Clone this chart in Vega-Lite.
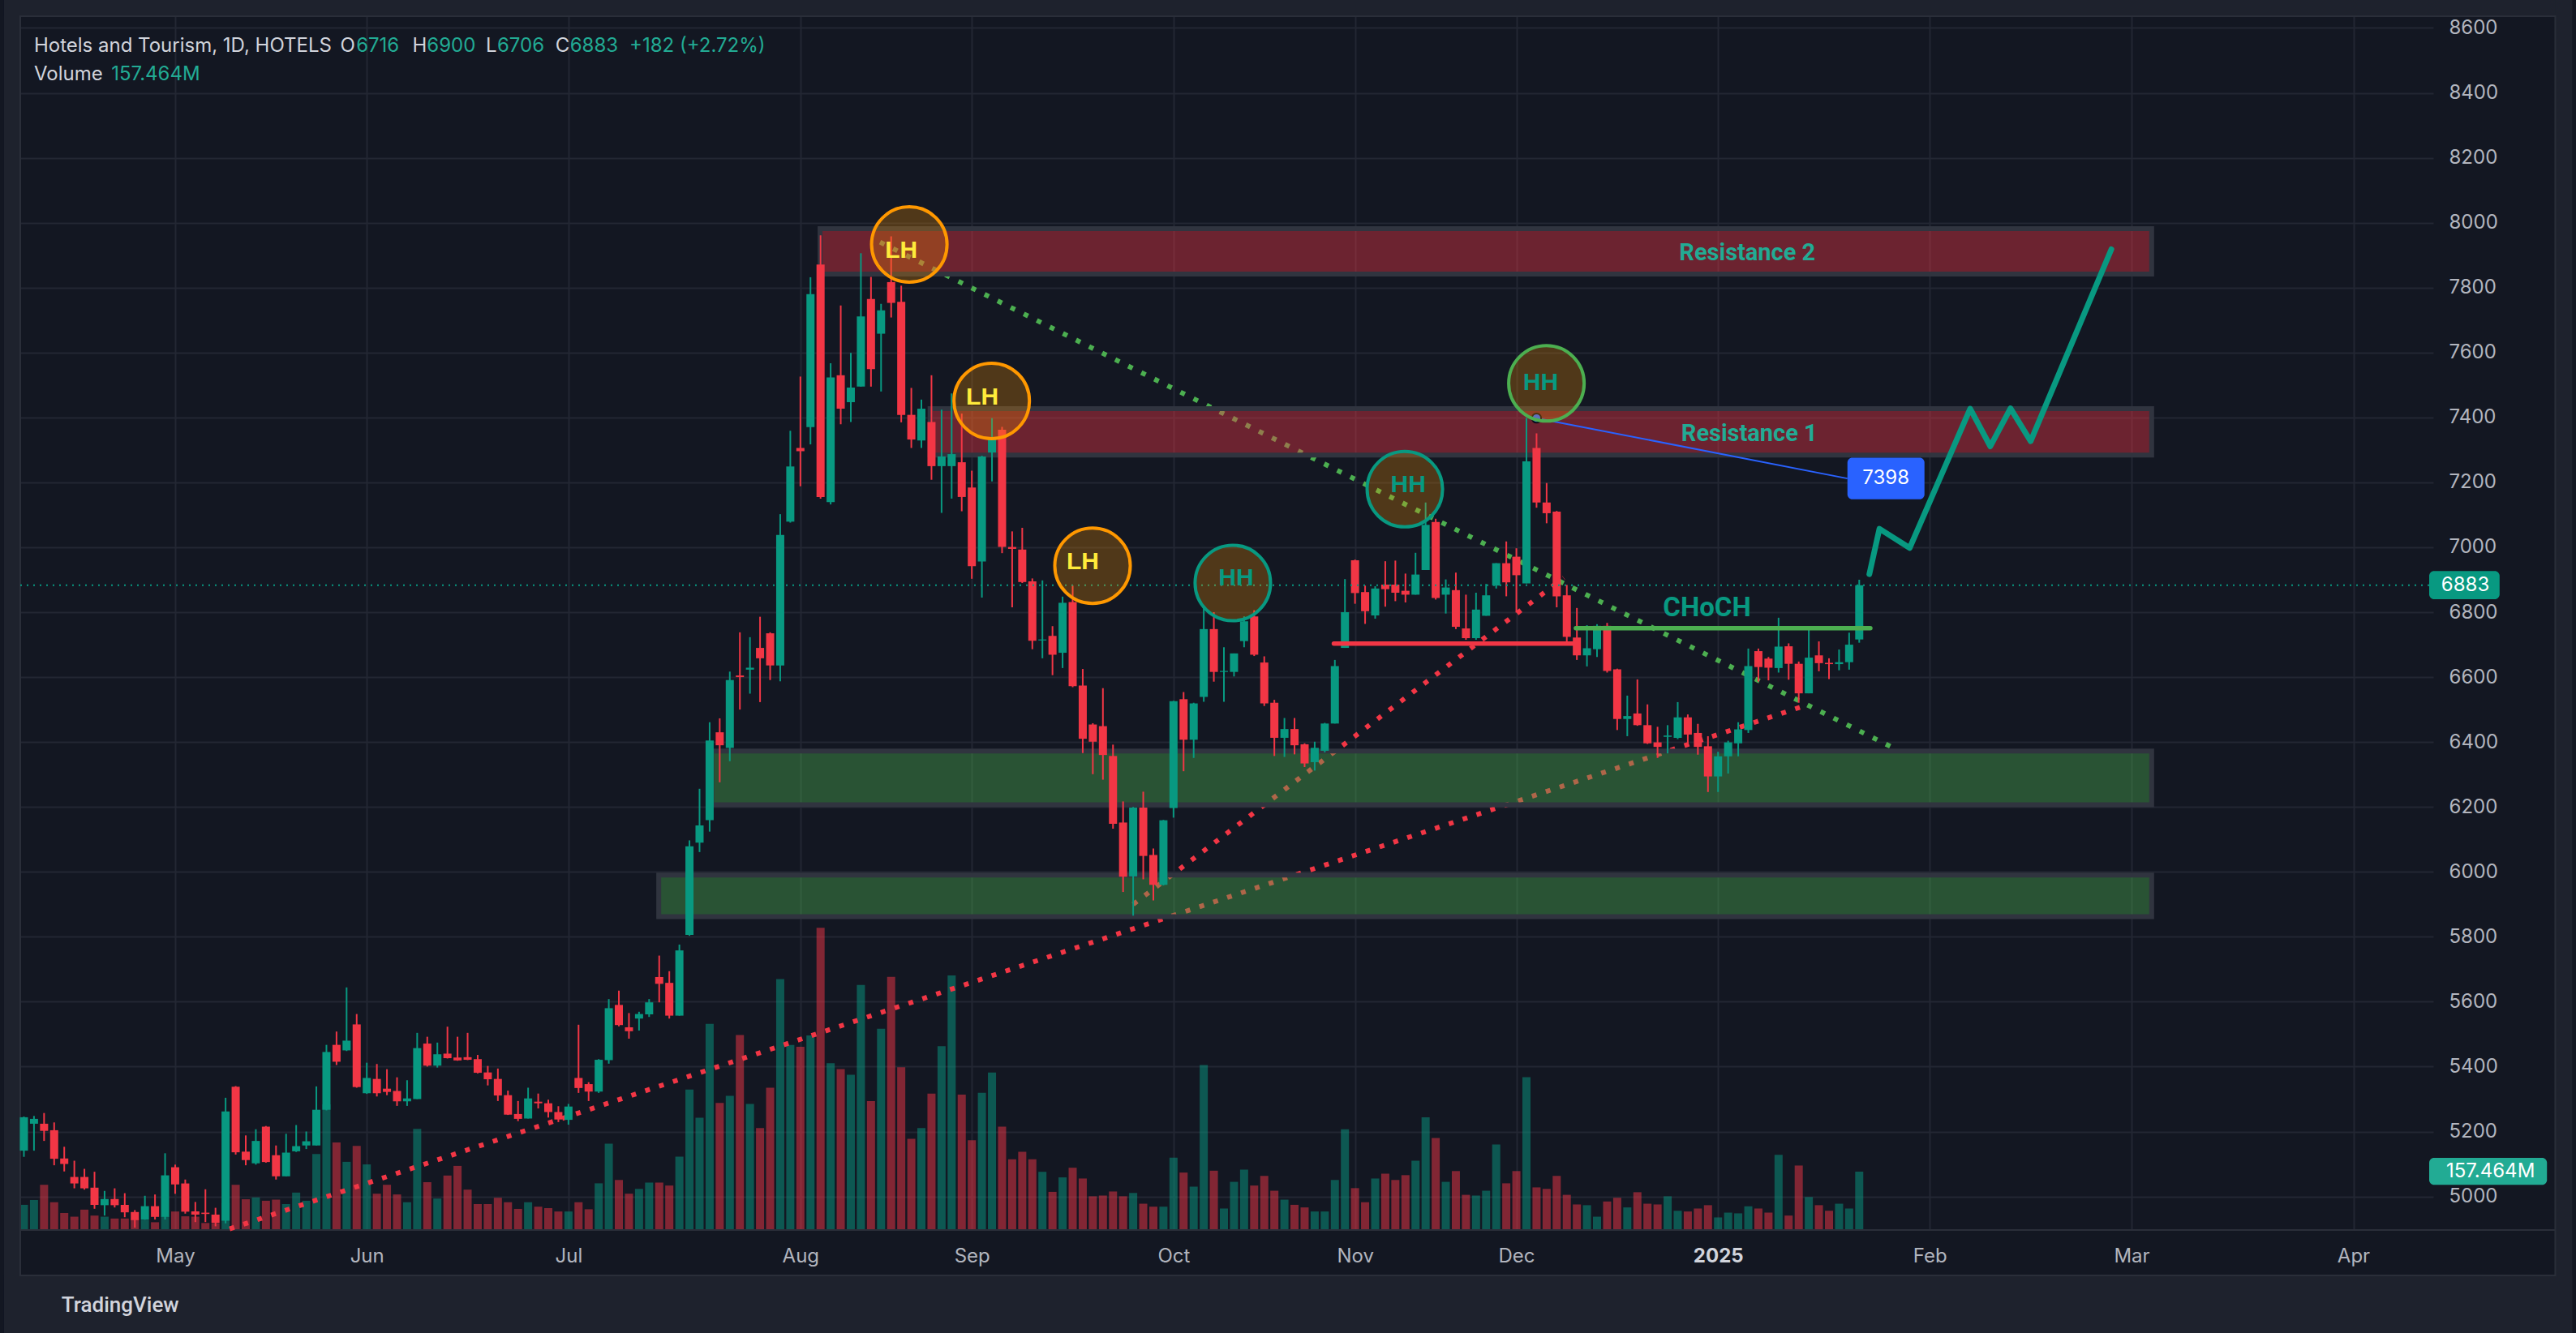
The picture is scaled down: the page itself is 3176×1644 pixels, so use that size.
{
"$schema":"https://vega.github.io/schema/vega-lite/v6.json",
"width":2980,"height":1497,
"autosize":{"type":"none"},
"padding":{"left":20,"top":20,"right":176,"bottom":127},
"background":"#131722",
"config":{"view":{"stroke":null}},
"datasets":{
"candles":[
{"i":0,"o":5141,"h":5246,"l":5122,"c":5244,"v":68},
{"i":1,"o":5224,"h":5248,"l":5141,"c":5239,"v":81},
{"i":2,"o":5224,"h":5257,"l":5171,"c":5202,"v":122},
{"i":3,"o":5204,"h":5228,"l":5096,"c":5116,"v":75},
{"i":4,"o":5117,"h":5153,"l":5077,"c":5100,"v":46},
{"i":5,"o":5060,"h":5110,"l":5025,"c":5040,"v":36},
{"i":6,"o":5060,"h":5085,"l":5021,"c":5025,"v":55},
{"i":7,"o":5027,"h":5076,"l":4962,"c":4974,"v":39},
{"i":8,"o":4973,"h":5017,"l":4941,"c":4992,"v":36},
{"i":9,"o":4992,"h":5025,"l":4966,"c":4973,"v":31},
{"i":10,"o":4974,"h":5010,"l":4936,"c":4951,"v":31},
{"i":11,"o":4952,"h":4958,"l":4904,"c":4927,"v":30},
{"i":12,"o":4929,"h":5002,"l":4928,"c":4970,"v":28},
{"i":13,"o":4970,"h":5006,"l":4929,"c":4937,"v":21},
{"i":14,"o":4937,"h":5133,"l":4929,"c":5065,"v":37},
{"i":15,"o":5090,"h":5098,"l":5008,"c":5037,"v":50},
{"i":16,"o":5040,"h":5052,"l":4947,"c":4953,"v":37},
{"i":17,"o":4954,"h":4983,"l":4921,"c":4944,"v":36},
{"i":18,"o":4950,"h":5022,"l":4921,"c":4946,"v":19},
{"i":19,"o":4944,"h":4965,"l":4908,"c":4919,"v":19},
{"i":20,"o":4925,"h":5304,"l":4917,"c":5262,"v":72},
{"i":21,"o":5338,"h":5340,"l":5129,"c":5136,"v":122},
{"i":22,"o":5138,"h":5188,"l":5096,"c":5112,"v":83},
{"i":23,"o":5102,"h":5207,"l":5098,"c":5171,"v":88},
{"i":24,"o":5215,"h":5217,"l":5104,"c":5106,"v":79},
{"i":25,"o":5127,"h":5157,"l":5052,"c":5062,"v":82},
{"i":26,"o":5062,"h":5193,"l":5062,"c":5135,"v":70},
{"i":27,"o":5139,"h":5220,"l":5137,"c":5155,"v":101},
{"i":28,"o":5157,"h":5200,"l":5146,"c":5170,"v":79},
{"i":29,"o":5157,"h":5339,"l":5157,"c":5267,"v":205},
{"i":30,"o":5267,"h":5467,"l":5265,"c":5445,"v":339},
{"i":31,"o":5467,"h":5508,"l":5405,"c":5415,"v":236},
{"i":32,"o":5450,"h":5644,"l":5448,"c":5480,"v":184},
{"i":33,"o":5530,"h":5562,"l":5335,"c":5337,"v":227},
{"i":34,"o":5318,"h":5412,"l":5316,"c":5365,"v":177},
{"i":35,"o":5362,"h":5408,"l":5308,"c":5318,"v":98},
{"i":36,"o":5332,"h":5392,"l":5312,"c":5322,"v":122},
{"i":37,"o":5325,"h":5367,"l":5279,"c":5293,"v":96},
{"i":38,"o":5293,"h":5358,"l":5279,"c":5302,"v":75},
{"i":39,"o":5300,"h":5504,"l":5300,"c":5457,"v":273},
{"i":40,"o":5471,"h":5492,"l":5400,"c":5403,"v":129},
{"i":41,"o":5403,"h":5474,"l":5397,"c":5438,"v":85},
{"i":42,"o":5440,"h":5523,"l":5425,"c":5426,"v":147},
{"i":43,"o":5428,"h":5492,"l":5418,"c":5419,"v":173},
{"i":44,"o":5429,"h":5504,"l":5420,"c":5421,"v":109},
{"i":45,"o":5423,"h":5436,"l":5379,"c":5381,"v":70},
{"i":46,"o":5382,"h":5402,"l":5342,"c":5361,"v":70},
{"i":47,"o":5362,"h":5394,"l":5294,"c":5311,"v":87},
{"i":48,"o":5312,"h":5326,"l":5251,"c":5252,"v":75},
{"i":49,"o":5254,"h":5294,"l":5232,"c":5239,"v":57},
{"i":50,"o":5240,"h":5335,"l":5240,"c":5302,"v":75},
{"i":51,"o":5292,"h":5317,"l":5271,"c":5287,"v":63},
{"i":52,"o":5287,"h":5298,"l":5243,"c":5260,"v":59},
{"i":53,"o":5260,"h":5278,"l":5229,"c":5237,"v":50},
{"i":54,"o":5236,"h":5285,"l":5221,"c":5277,"v":50},
{"i":55,"o":5365,"h":5529,"l":5319,"c":5334,"v":75},
{"i":56,"o":5346,"h":5352,"l":5294,"c":5323,"v":56},
{"i":57,"o":5323,"h":5423,"l":5319,"c":5421,"v":126},
{"i":58,"o":5420,"h":5608,"l":5409,"c":5580,"v":233},
{"i":59,"o":5590,"h":5634,"l":5524,"c":5528,"v":135},
{"i":60,"o":5521,"h":5565,"l":5486,"c":5509,"v":98},
{"i":61,"o":5548,"h":5569,"l":5511,"c":5562,"v":111},
{"i":62,"o":5561,"h":5608,"l":5553,"c":5598,"v":128},
{"i":63,"o":5676,"h":5742,"l":5598,"c":5655,"v":128},
{"i":64,"o":5658,"h":5694,"l":5548,"c":5557,"v":120},
{"i":65,"o":5557,"h":5776,"l":5557,"c":5758,"v":198},
{"i":66,"o":5806,"h":6097,"l":5803,"c":6079,"v":379},
{"i":67,"o":6090,"h":6256,"l":6061,"c":6143,"v":303},
{"i":68,"o":6159,"h":6461,"l":6124,"c":6405,"v":556},
{"i":69,"o":6430,"h":6473,"l":6276,"c":6390,"v":343},
{"i":70,"o":6382,"h":6617,"l":6341,"c":6591,"v":362},
{"i":71,"o":6605,"h":6738,"l":6500,"c":6600,"v":526},
{"i":72,"o":6623,"h":6723,"l":6549,"c":6629,"v":340},
{"i":73,"o":6690,"h":6786,"l":6523,"c":6658,"v":275},
{"i":74,"o":6735,"h":6738,"l":6591,"c":6636,"v":384},
{"i":75,"o":6636,"h":7102,"l":6587,"c":7038,"v":677},
{"i":76,"o":7079,"h":7359,"l":7076,"c":7249,"v":499},
{"i":77,"o":7306,"h":7526,"l":7188,"c":7296,"v":494},
{"i":78,"o":7370,"h":7832,"l":7317,"c":7780,"v":525},
{"i":79,"o":7871,"h":7961,"l":7150,"c":7155,"v":815},
{"i":80,"o":7139,"h":7567,"l":7132,"c":7523,"v":450},
{"i":81,"o":7530,"h":7745,"l":7379,"c":7427,"v":434},
{"i":82,"o":7447,"h":7599,"l":7386,"c":7492,"v":419},
{"i":83,"o":7495,"h":7906,"l":7495,"c":7711,"v":661},
{"i":84,"o":7765,"h":7833,"l":7495,"c":7549,"v":348},
{"i":85,"o":7658,"h":7750,"l":7480,"c":7730,"v":543},
{"i":86,"o":7817,"h":7958,"l":7708,"c":7753,"v":683},
{"i":87,"o":7756,"h":7806,"l":7385,"c":7408,"v":439},
{"i":88,"o":7408,"h":7491,"l":7306,"c":7332,"v":246},
{"i":89,"o":7329,"h":7455,"l":7306,"c":7427,"v":275},
{"i":90,"o":7386,"h":7530,"l":7208,"c":7250,"v":368},
{"i":91,"o":7250,"h":7424,"l":7106,"c":7280,"v":496},
{"i":92,"o":7250,"h":7474,"l":7150,"c":7287,"v":687},
{"i":93,"o":7262,"h":7412,"l":7111,"c":7155,"v":365},
{"i":94,"o":7184,"h":7236,"l":6903,"c":6942,"v":242},
{"i":95,"o":6956,"h":7282,"l":6845,"c":7280,"v":370},
{"i":96,"o":7292,"h":7398,"l":7203,"c":7332,"v":425},
{"i":97,"o":7362,"h":7371,"l":6982,"c":7001,"v":279},
{"i":98,"o":7001,"h":7049,"l":6815,"c":6995,"v":191},
{"i":99,"o":6993,"h":7060,"l":6890,"c":6893,"v":211},
{"i":100,"o":6895,"h":6904,"l":6686,"c":6712,"v":191},
{"i":101,"o":6713,"h":6898,"l":6658,"c":6716,"v":157},
{"i":102,"o":6727,"h":6757,"l":6606,"c":6669,"v":103},
{"i":103,"o":6675,"h":6848,"l":6628,"c":6829,"v":142},
{"i":104,"o":6831,"h":6882,"l":6569,"c":6572,"v":168},
{"i":105,"o":6574,"h":6625,"l":6366,"c":6410,"v":139},
{"i":106,"o":6454,"h":6458,"l":6301,"c":6401,"v":91},
{"i":107,"o":6449,"h":6566,"l":6284,"c":6360,"v":93},
{"i":108,"o":6357,"h":6392,"l":6133,"c":6148,"v":104},
{"i":109,"o":6152,"h":6217,"l":5938,"c":5985,"v":91},
{"i":110,"o":5986,"h":6200,"l":5865,"c":6198,"v":100},
{"i":111,"o":6198,"h":6247,"l":5977,"c":6049,"v":71},
{"i":112,"o":6052,"h":6072,"l":5912,"c":5960,"v":63},
{"i":113,"o":5960,"h":6160,"l":5958,"c":6159,"v":63},
{"i":114,"o":6197,"h":6527,"l":6167,"c":6526,"v":195},
{"i":115,"o":6532,"h":6554,"l":6310,"c":6407,"v":155},
{"i":116,"o":6407,"h":6521,"l":6351,"c":6519,"v":117},
{"i":117,"o":6539,"h":6820,"l":6524,"c":6748,"v":445},
{"i":118,"o":6748,"h":6800,"l":6586,"c":6616,"v":160},
{"i":119,"o":6616,"h":6692,"l":6524,"c":6619,"v":58},
{"i":120,"o":6616,"h":6673,"l":6602,"c":6673,"v":130},
{"i":121,"o":6711,"h":6787,"l":6692,"c":6772,"v":163},
{"i":122,"o":6787,"h":6806,"l":6665,"c":6669,"v":120},
{"i":123,"o":6645,"h":6664,"l":6511,"c":6519,"v":146},
{"i":124,"o":6521,"h":6530,"l":6357,"c":6413,"v":106},
{"i":125,"o":6413,"h":6474,"l":6354,"c":6440,"v":82},
{"i":126,"o":6440,"h":6474,"l":6362,"c":6390,"v":68},
{"i":127,"o":6393,"h":6396,"l":6323,"c":6334,"v":61},
{"i":128,"o":6338,"h":6401,"l":6312,"c":6382,"v":50},
{"i":129,"o":6373,"h":6459,"l":6368,"c":6457,"v":50},
{"i":130,"o":6457,"h":6653,"l":6457,"c":6634,"v":135},
{"i":131,"o":6690,"h":6902,"l":6690,"c":6800,"v":272},
{"i":132,"o":6960,"h":6962,"l":6826,"c":6859,"v":113},
{"i":133,"o":6862,"h":6882,"l":6764,"c":6803,"v":75},
{"i":134,"o":6790,"h":6880,"l":6780,"c":6873,"v":139},
{"i":135,"o":6885,"h":6957,"l":6817,"c":6871,"v":152},
{"i":136,"o":6885,"h":6959,"l":6834,"c":6860,"v":135},
{"i":137,"o":6866,"h":6919,"l":6830,"c":6854,"v":148},
{"i":138,"o":6854,"h":6983,"l":6854,"c":6916,"v":187},
{"i":139,"o":6930,"h":7138,"l":6930,"c":7069,"v":304},
{"i":140,"o":7078,"h":7088,"l":6839,"c":6844,"v":248},
{"i":141,"o":6854,"h":6901,"l":6796,"c":6876,"v":130},
{"i":142,"o":6868,"h":6922,"l":6748,"c":6755,"v":159},
{"i":143,"o":6750,"h":6854,"l":6715,"c":6720,"v":95},
{"i":144,"o":6720,"h":6860,"l":6715,"c":6808,"v":93},
{"i":145,"o":6789,"h":6887,"l":6789,"c":6852,"v":106},
{"i":146,"o":6882,"h":6951,"l":6873,"c":6951,"v":231},
{"i":147,"o":6951,"h":7018,"l":6849,"c":6892,"v":126},
{"i":148,"o":6971,"h":6997,"l":6799,"c":6914,"v":159},
{"i":149,"o":6889,"h":7398,"l":6889,"c":7265,"v":412},
{"i":150,"o":7306,"h":7351,"l":7122,"c":7138,"v":115},
{"i":151,"o":7138,"h":7198,"l":7074,"c":7105,"v":111},
{"i":152,"o":7110,"h":7112,"l":6815,"c":6849,"v":146},
{"i":153,"o":6852,"h":6884,"l":6710,"c":6724,"v":95},
{"i":154,"o":6722,"h":6813,"l":6653,"c":6667,"v":69},
{"i":155,"o":6667,"h":6760,"l":6633,"c":6689,"v":67},
{"i":156,"o":6686,"h":6763,"l":6662,"c":6758,"v":36},
{"i":157,"o":6758,"h":6767,"l":6614,"c":6619,"v":77},
{"i":158,"o":6624,"h":6626,"l":6437,"c":6471,"v":87},
{"i":159,"o":6471,"h":6543,"l":6418,"c":6480,"v":61},
{"i":160,"o":6488,"h":6593,"l":6450,"c":6452,"v":102},
{"i":161,"o":6452,"h":6516,"l":6394,"c":6396,"v":71},
{"i":162,"o":6399,"h":6447,"l":6351,"c":6385,"v":69},
{"i":163,"o":6416,"h":6452,"l":6365,"c":6420,"v":91},
{"i":164,"o":6413,"h":6523,"l":6409,"c":6476,"v":52},
{"i":165,"o":6476,"h":6485,"l":6394,"c":6423,"v":50},
{"i":166,"o":6428,"h":6456,"l":6361,"c":6385,"v":58},
{"i":167,"o":6387,"h":6418,"l":6246,"c":6294,"v":67},
{"i":168,"o":6294,"h":6370,"l":6246,"c":6356,"v":34},
{"i":169,"o":6356,"h":6404,"l":6303,"c":6399,"v":47},
{"i":170,"o":6396,"h":6461,"l":6356,"c":6439,"v":45},
{"i":171,"o":6437,"h":6688,"l":6428,"c":6634,"v":64},
{"i":172,"o":6680,"h":6688,"l":6586,"c":6631,"v":58},
{"i":173,"o":6657,"h":6662,"l":6590,"c":6629,"v":47},
{"i":174,"o":6628,"h":6783,"l":6614,"c":6694,"v":203},
{"i":175,"o":6695,"h":6704,"l":6592,"c":6641,"v":39},
{"i":176,"o":6641,"h":6648,"l":6521,"c":6550,"v":174},
{"i":177,"o":6550,"h":6750,"l":6550,"c":6660,"v":89},
{"i":178,"o":6667,"h":6710,"l":6618,"c":6643,"v":67},
{"i":179,"o":6644,"h":6658,"l":6594,"c":6640,"v":52},
{"i":180,"o":6640,"h":6685,"l":6621,"c":6646,"v":71},
{"i":181,"o":6646,"h":6737,"l":6623,"c":6700,"v":58},
{"i":182,"o":6716,"h":6900,"l":6706,"c":6883,"v":157.464}
],
"frame":[
{"i":-1.97,"i2":-0.36,"p":4579,"p2":8687},
{"i":-1.97,"i2":252.7,"p":8636.2,"p2":8687},
{"i":251.02,"i2":252.7,"p":4579,"p2":8687},
{"i":-1.97,"i2":252.7,"p":4579,"p2":4756.6}
],
"pane":[{"i":-0.36,"i2":251.02,"p":4756.6,"p2":8636.2}],
"seps":[{"i":-0.36,"i2":251.02,"p":4896.5}],
"zones":[
{"i":78.95,"i2":211.0,"p":7842,"p2":7982,"k":"res"},
{"i":89.86,"i2":211.0,"p":7284,"p2":7427,"k":"res"},
{"i":68.2,"i2":211.0,"p":6207,"p2":6372,"k":"sup"},
{"i":62.95,"i2":211.0,"p":5862,"p2":5990,"k":"sup"}
],
"dots":[
{"id":"g","i":84.9,"p":7940},{"id":"g","i":185.9,"p":6374},
{"id":"ra","i":20.4,"p":4900},{"id":"ra","i":176.7,"p":6513},
{"id":"rb","i":110.0,"p":5900},{"id":"rb","i":152.7,"p":6906}
],
"levels":[
{"i":129.9,"i2":154.1,"p":6703,"k":"break"},
{"i":153.9,"i2":183.1,"p":6751,"k":"choch"}
],
"last":[{"i":-0.36,"i2":238.52,"p":6883}],
"blue":[{"i":150.0,"p":7398},{"i":180.83,"p":7212}],
"bluedot":[{"i":150.0,"p":7398}],
"circles":[
{"i":87.8,"p":7933,"k":"lh"},
{"i":95.97,"p":7451,"k":"lh"},
{"i":105.97,"p":6943,"k":"lh"},
{"i":119.88,"p":6890,"k":"hht"},
{"i":136.94,"p":7179,"k":"hht"},
{"i":150.98,"p":7505,"k":"hhg"}
],
"circletext":[
{"i":87.0,"p":7915,"t":"LH","k":"lh"},
{"i":95.04,"p":7462,"t":"LH","k":"lh"},
{"i":105.0,"p":6954,"t":"LH","k":"lh"},
{"i":120.2,"p":6904,"t":"HH","k":"hh"},
{"i":137.27,"p":7193,"t":"HH","k":"hh"},
{"i":150.4,"p":7506,"t":"HH","k":"hh"}
],
"notes":[
{"i":170.9,"p":7907,"t":"Resistance 2","k":"res"},
{"i":171.1,"p":7350,"t":"Resistance 1","k":"res"},
{"i":166.9,"p":6813,"t":"CHoCH","k":"choch"}
],
"proj":[
{"n":0,"i":183.0,"p":6917},
{"n":1,"i":184.0,"p":7057},
{"n":2,"i":187.0,"p":6998},
{"n":3,"i":193.0,"p":7427},
{"n":4,"i":195.0,"p":7311},
{"n":5,"i":197.0,"p":7428},
{"n":6,"i":199.0,"p":7327},
{"n":7,"i":207.0,"p":7918}
],
"boxes":[
{"i":238.52,"i2":245.5,"p":6840,"p2":6927,"k":"price"},
{"i":238.52,"i2":250.2,"p":5036,"p2":5119,"k":"vol"},
{"i":180.83,"i2":188.47,"p":7148,"p2":7276,"k":"blue"}
],
"boxtext":[
{"i":242.1,"p":6883,"t":"6883"},
{"i":244.6,"p":5077,"t":"157.464M"},
{"i":184.65,"p":7212,"t":"7398"}
],
"header":[
{"i":1.0,"p":8544.5,"t":"Hotels and Tourism, 1D, HOTELS","k":"lab"},
{"i":31.38,"p":8544.5,"t":"O","k":"lab"},
{"i":32.95,"p":8544.5,"t":"6716","k":"val"},
{"i":38.52,"p":8544.5,"t":"H","k":"lab"},
{"i":39.96,"p":8544.5,"t":"6900","k":"val"},
{"i":45.81,"p":8544.5,"t":"L","k":"lab"},
{"i":46.93,"p":8544.5,"t":"6706","k":"val"},
{"i":52.71,"p":8544.5,"t":"C","k":"lab"},
{"i":54.15,"p":8544.5,"t":"6883","k":"val"},
{"i":60.05,"p":8544.5,"t":"+182 (+2.72%)","k":"val"},
{"i":1.0,"p":8457.1,"t":"Volume","k":"lab"},
{"i":8.67,"p":8457.1,"t":"157.464M","k":"val"}
],
"logo":[{"i":3.73,"p":4664,"t":"TradingView"}]
},
"resolve":{"scale":{"y":"independent"}},
"encoding":{
"x":{"field":"i","type":"quantitative","scale":{"domain":[-0.36,238.52],"nice":false,"zero":false},"title":null,
"axis":{"orient":"bottom","values":[15,34,54,77,94,114,132,148,168,189,209,231],
"labelExpr":"datum.value==15?'May':datum.value==34?'Jun':datum.value==54?'Jul':datum.value==77?'Aug':datum.value==94?'Sep':datum.value==114?'Oct':datum.value==132?'Nov':datum.value==148?'Dec':datum.value==168?'2025':datum.value==189?'Feb':datum.value==209?'Mar':'Apr'",
"labelFont":"Inter","labelFontSize":24,
"labelColor":{"condition":{"test":"datum.value==168","value":"#d1d4dc"},"value":"#b2b5be"},
"labelFontWeight":{"condition":{"test":"datum.value==168","value":"bold"},"value":"normal"},
"labelBaseline":"middle","labelPadding":32,"ticks":false,"labelFlush":false,"labelOverlap":false,
"domain":false,"grid":true,"gridColor":"#232733","gridWidth":2}}
},
"layer":[
{
"data":{"name":"candles"},
"mark":{"type":"bar","width":10,"opacity":0.5},
"encoding":{
"y":{"field":"v","type":"quantitative","scale":{"domain":[0,3274],"nice":false},"axis":null,"title":null},
"color":{"condition":{"test":"datum.c >= datum.o","value":"#089981"},"value":"#f23645"}
}
},
{
"data":{"name":"frame"},
"mark":{"type":"rect","color":"#1e222d"},
"encoding":{
"x2":{"field":"i2"},
"y":{"field":"p","type":"quantitative","scale":{"domain":[4896.5,8636.2],"nice":false,"zero":false},"title":null,
"axis":{"orient":"right","values":[5000,5200,5400,5600,5800,6000,6200,6400,6600,6800,7000,7200,7400,7600,7800,8000,8200,8400,8600],
"format":"d","labelFont":"Inter","labelFontSize":24,"labelColor":"#b2b5be","labelPadding":19,"ticks":false,"labelFlush":false,"labelOverlap":false,
"domain":false,"grid":true,"gridColor":"#232733","gridWidth":2}},
"y2":{"field":"p2"}
}
},
{
"data":{"name":"pane"},
"mark":{"type":"rect","fill":null,"fillOpacity":0,"stroke":"#2a2e39","strokeWidth":2},
"encoding":{
"x2":{"field":"i2"},
"y":{"field":"p","type":"quantitative","scale":{"domain":[4896.5,8636.2],"nice":false,"zero":false},"axis":null,"title":null},
"y2":{"field":"p2"}
}
},
{
"data":{"name":"seps"},
"mark":{"type":"rule","strokeWidth":2,"color":"#2a2e39"},
"encoding":{
"x2":{"field":"i2"},
"y":{"field":"p","type":"quantitative","scale":{"domain":[4896.5,8636.2],"nice":false,"zero":false},"axis":null,"title":null}
}
},
{
"data":{"name":"dots"},
"mark":{"type":"line","strokeWidth":6,"strokeDash":[6,12],"strokeCap":"butt"},
"encoding":{
"y":{"field":"p","type":"quantitative","scale":{"domain":[4896.5,8636.2],"nice":false,"zero":false},"axis":null,"title":null},
"detail":{"field":"id"},
"color":{"condition":{"test":"datum.id=='g'","value":"#4caf50"},"value":"#f23645"}
}
},
{
"data":{"name":"zones"},
"mark":{"type":"rect","fillOpacity":0.4,"stroke":"#30343f","strokeWidth":6,"strokeOpacity":1},
"encoding":{
"x2":{"field":"i2"},
"y":{"field":"p","type":"quantitative","scale":{"domain":[4896.5,8636.2],"nice":false,"zero":false},"axis":null,"title":null},
"y2":{"field":"p2"},
"fill":{"condition":{"test":"datum.k=='res'","value":"#f23645"},"value":"#4caf50"}
}
},
{
"data":{"name":"candles"},
"mark":{"type":"rule","strokeWidth":2},
"encoding":{
"y":{"field":"l","type":"quantitative","scale":{"domain":[4896.5,8636.2],"nice":false,"zero":false},"axis":null,"title":null},
"y2":{"field":"h"},
"color":{"condition":{"test":"datum.c >= datum.o","value":"#089981"},"value":"#f23645"}
}
},
{
"data":{"name":"candles"},
"mark":{"type":"bar","width":10},
"encoding":{
"y":{"field":"o","type":"quantitative","scale":{"domain":[4896.5,8636.2],"nice":false,"zero":false},"axis":null,"title":null},
"y2":{"field":"c"},
"color":{"condition":{"test":"datum.c >= datum.o","value":"#089981"},"value":"#f23645"}
}
},
{
"data":{"name":"last"},
"mark":{"type":"rule","strokeWidth":2,"strokeDash":[2,6],"color":"#089981"},
"encoding":{
"x2":{"field":"i2"},
"y":{"field":"p","type":"quantitative","scale":{"domain":[4896.5,8636.2],"nice":false,"zero":false},"axis":null,"title":null}
}
},
{
"data":{"name":"levels"},
"mark":{"type":"rule","strokeWidth":5.5,"strokeCap":"round"},
"encoding":{
"x2":{"field":"i2"},
"y":{"field":"p","type":"quantitative","scale":{"domain":[4896.5,8636.2],"nice":false,"zero":false},"axis":null,"title":null},
"color":{"condition":{"test":"datum.k=='break'","value":"#f23645"},"value":"#4caf50"}
}
},
{
"data":{"name":"blue"},
"mark":{"type":"line","strokeWidth":2,"color":"#2962ff"},
"encoding":{
"y":{"field":"p","type":"quantitative","scale":{"domain":[4896.5,8636.2],"nice":false,"zero":false},"axis":null,"title":null}
}
},
{
"data":{"name":"bluedot"},
"mark":{"type":"point","shape":"circle","size":130,"filled":true,"fill":"#2962ff","stroke":"#0b0e16","strokeWidth":2,"opacity":1},
"encoding":{
"y":{"field":"p","type":"quantitative","scale":{"domain":[4896.5,8636.2],"nice":false,"zero":false},"axis":null,"title":null}
}
},
{
"data":{"name":"circles"},
"mark":{"type":"point","shape":"circle","size":8660,"filled":true,"fill":"#ff9800","fillOpacity":0.26,"strokeWidth":4,"strokeOpacity":1,"opacity":1},
"encoding":{
"y":{"field":"p","type":"quantitative","scale":{"domain":[4896.5,8636.2],"nice":false,"zero":false},"axis":null,"title":null},
"stroke":{"condition":[{"test":"datum.k=='lh'","value":"#ff9800"},{"test":"datum.k=='hht'","value":"#089981"}],"value":"#4caf50"}
}
},
{
"data":{"name":"circletext"},
"mark":{"type":"text","font":"Liberation Sans","fontWeight":"bold","fontSize":30,"align":"center","baseline":"middle"},
"encoding":{
"y":{"field":"p","type":"quantitative","scale":{"domain":[4896.5,8636.2],"nice":false,"zero":false},"axis":null,"title":null},
"text":{"field":"t"},
"color":{"condition":{"test":"datum.k=='lh'","value":"#ffeb3b"},"value":"#089981"}
}
},
{
"data":{"name":"notes"},
"mark":{"type":"text","font":"Roboto","fontWeight":"bold","align":"center","baseline":"middle"},
"encoding":{
"y":{"field":"p","type":"quantitative","scale":{"domain":[4896.5,8636.2],"nice":false,"zero":false},"axis":null,"title":null},
"text":{"field":"t"},
"size":{"condition":{"test":"datum.k=='choch'","value":33},"value":29},
"color":{"condition":{"test":"datum.k=='choch'","value":"#089981"},"value":"#22ab94"}
}
},
{
"data":{"name":"proj"},
"mark":{"type":"line","strokeWidth":7,"strokeCap":"round","strokeJoin":"round","color":"#089981"},
"encoding":{
"y":{"field":"p","type":"quantitative","scale":{"domain":[4896.5,8636.2],"nice":false,"zero":false},"axis":null,"title":null},
"order":{"field":"n"}
}
},
{
"data":{"name":"boxes"},
"mark":{"type":"rect","cornerRadius":6},
"encoding":{
"x2":{"field":"i2"},
"y":{"field":"p","type":"quantitative","scale":{"domain":[4896.5,8636.2],"nice":false,"zero":false},"axis":null,"title":null},
"y2":{"field":"p2"},
"color":{"condition":[{"test":"datum.k=='price'","value":"#089981"},{"test":"datum.k=='vol'","value":"#22ab94"}],"value":"#2962ff"}
}
},
{
"data":{"name":"boxtext"},
"mark":{"type":"text","font":"Inter","fontSize":24,"align":"center","baseline":"middle","color":"#ffffff"},
"encoding":{
"y":{"field":"p","type":"quantitative","scale":{"domain":[4896.5,8636.2],"nice":false,"zero":false},"axis":null,"title":null},
"text":{"field":"t"}
}
},
{
"data":{"name":"header"},
"mark":{"type":"text","font":"Inter","fontSize":24,"align":"left","baseline":"middle"},
"encoding":{
"y":{"field":"p","type":"quantitative","scale":{"domain":[4896.5,8636.2],"nice":false,"zero":false},"axis":null,"title":null},
"text":{"field":"t"},
"color":{"condition":{"test":"datum.k=='lab'","value":"#d1d4dc"},"value":"#22ab94"}
}
},
{
"data":{"name":"logo"},
"mark":{"type":"text","font":"Roboto","fontSize":26,"fontWeight":500,"align":"left","baseline":"middle","color":"#d1d4dc"},
"encoding":{
"y":{"field":"p","type":"quantitative","scale":{"domain":[4896.5,8636.2],"nice":false,"zero":false},"axis":null,"title":null},
"text":{"field":"t"}
}
}
]
}
